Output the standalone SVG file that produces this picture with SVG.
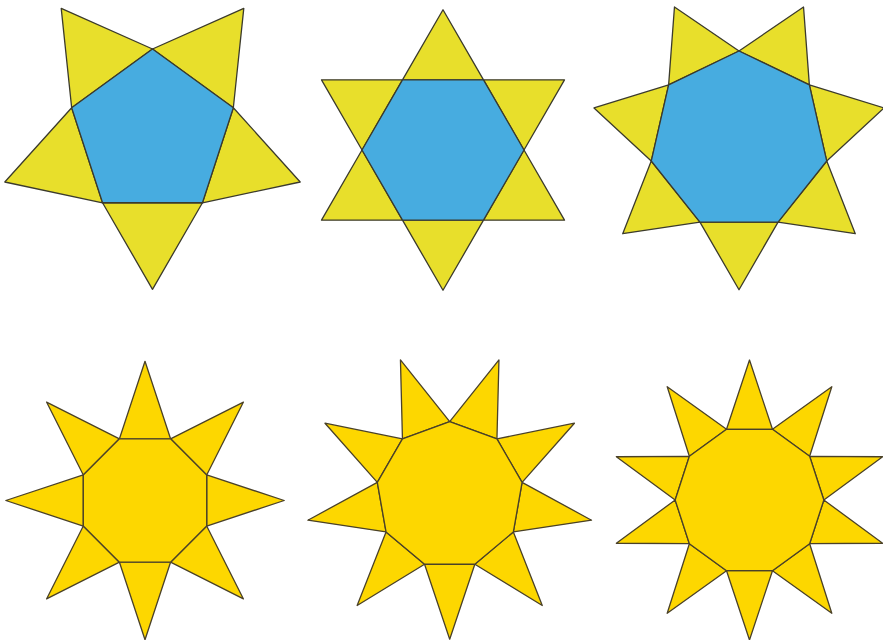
<svg xmlns="http://www.w3.org/2000/svg" width="883" height="640" viewBox="0 0 883 640">
<style>
.ty{fill:#e8df2b;stroke:#3b3a2c;stroke-width:1.3;stroke-linejoin:round}
.tb{fill:#47ace0;stroke:#3b3a2c;stroke-width:1.3;stroke-linejoin:round}
.tg{fill:#fdd700;stroke:#4a4128;stroke-width:1.3;stroke-linejoin:round}
</style>
<defs>
<polygon id="t5" class="ty" points="102.54,202.77 202.46,202.77 152.5,289.3"/>
<polygon id="t6" class="ty" points="402.5,220.15 483.5,220.15 443,290.3"/>
<polygon id="t7" class="ty" points="699.95,222.09 778.05,222.09 739,289.73"/>
<polygon id="t8" class="tg" points="119.45,562.2 170.55,562.2 145,639.7"/>
<polygon id="t9" class="tg" points="424.56,564.27 474.84,564.27 449.7,639.2"/>
<polygon id="t10" class="tg" points="726.53,570.7 772.47,570.7 749.5,640"/>
</defs>
<rect width="883" height="640" fill="#ffffff"/>
<g id="pentagon-star">
<use href="#t5"/>
<use href="#t5" transform="rotate(72 152.5 134)"/>
<use href="#t5" transform="rotate(144 152.5 134)"/>
<use href="#t5" transform="rotate(216 152.5 134)"/>
<use href="#t5" transform="rotate(288 152.5 134)"/>
<polygon class="tb" points="152.5,49 233.34,107.73 202.46,202.77 102.54,202.77 71.66,107.73"/>
</g>
<g id="hexagon-star">
<use href="#t6"/>
<use href="#t6" transform="rotate(60 443 150)"/>
<use href="#t6" transform="rotate(120 443 150)"/>
<use href="#t6" transform="rotate(180 443 150)"/>
<use href="#t6" transform="rotate(240 443 150)"/>
<use href="#t6" transform="rotate(300 443 150)"/>
<polygon class="tb" points="402.5,79.85 483.5,79.85 524,150 483.5,220.15 402.5,220.15 362,150"/>
</g>
<g id="heptagon-star">
<use href="#t7"/>
<use href="#t7" transform="rotate(51.4286 739 141)"/>
<use href="#t7" transform="rotate(102.857 739 141)"/>
<use href="#t7" transform="rotate(154.286 739 141)"/>
<use href="#t7" transform="rotate(205.714 739 141)"/>
<use href="#t7" transform="rotate(257.143 739 141)"/>
<use href="#t7" transform="rotate(308.571 739 141)"/>
<polygon class="tb" points="739,51 809.36,84.89 826.74,161.03 778.05,222.09 699.95,222.09 651.26,161.03 668.64,84.89"/>
</g>
<g id="octagon-sun">
<use href="#t8"/>
<use href="#t8" transform="rotate(45 145 500.5)"/>
<use href="#t8" transform="rotate(90 145 500.5)"/>
<use href="#t8" transform="rotate(135 145 500.5)"/>
<use href="#t8" transform="rotate(180 145 500.5)"/>
<use href="#t8" transform="rotate(225 145 500.5)"/>
<use href="#t8" transform="rotate(270 145 500.5)"/>
<use href="#t8" transform="rotate(315 145 500.5)"/>
<polygon class="tg" points="119.45,438.8 170.55,438.8 206.7,474.95 206.7,526.05 170.55,562.2 119.45,562.2 83.3,526.05 83.3,474.95"/>
</g>
<g id="nonagon-sun">
<use href="#t9"/>
<use href="#t9" transform="rotate(40 449.7 495.2)"/>
<use href="#t9" transform="rotate(80 449.7 495.2)"/>
<use href="#t9" transform="rotate(120 449.7 495.2)"/>
<use href="#t9" transform="rotate(160 449.7 495.2)"/>
<use href="#t9" transform="rotate(200 449.7 495.2)"/>
<use href="#t9" transform="rotate(240 449.7 495.2)"/>
<use href="#t9" transform="rotate(280 449.7 495.2)"/>
<use href="#t9" transform="rotate(320 449.7 495.2)"/>
<polygon class="tg" points="449.7,421.7 496.95,438.9 522.08,482.44 513.35,531.95 474.84,564.27 424.56,564.27 386.05,531.95 377.32,482.44 402.45,438.9"/>
</g>
<g id="decagon-sun">
<use href="#t10"/>
<use href="#t10" transform="rotate(36 749.5 500)"/>
<use href="#t10" transform="rotate(72 749.5 500)"/>
<use href="#t10" transform="rotate(108 749.5 500)"/>
<use href="#t10" transform="rotate(144 749.5 500)"/>
<use href="#t10" transform="rotate(180 749.5 500)"/>
<use href="#t10" transform="rotate(216 749.5 500)"/>
<use href="#t10" transform="rotate(252 749.5 500)"/>
<use href="#t10" transform="rotate(288 749.5 500)"/>
<use href="#t10" transform="rotate(324 749.5 500)"/>
<polygon class="tg" points="726.53,429.3 772.47,429.3 809.64,456.3 823.84,500 809.64,543.7 772.47,570.7 726.53,570.7 689.36,543.7 675.16,500 689.36,456.3"/>
</g>
<g id="connectors"/>
</svg>
